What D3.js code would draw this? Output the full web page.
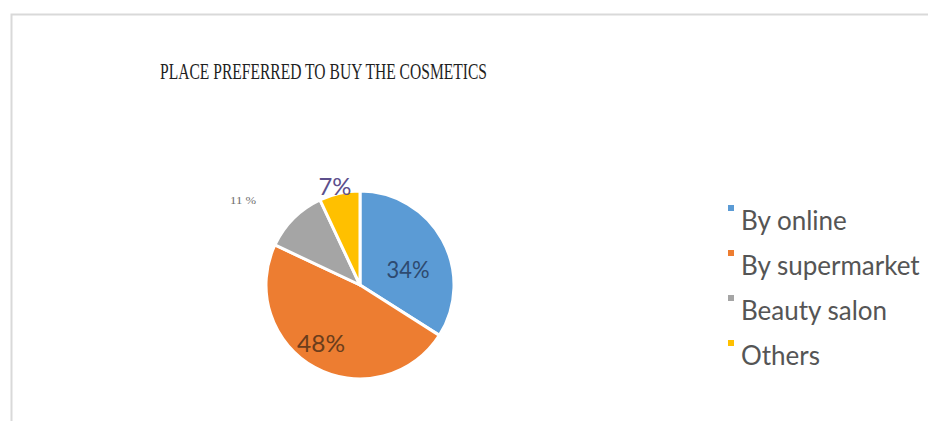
<!DOCTYPE html>
<html><head><meta charset="utf-8">
<script src="https://cdn.jsdelivr.net/npm/d3@7"></script>
<style>body{margin:0;background:#fff;}svg{display:block;}</style>
</head><body>
<svg id="c" width="928" height="421"></svg>
<script>
const categories = ["By online", "By supermarket", "Beauty salon", "Others"];
const values = [34, 48, 11, 7];
const labels = ["34%", "48%", "11 %", "7%"];
const colors = ["#5b9bd5", "#ed7d31", "#a5a5a5", "#ffc000"];
const title = "PLACE PREFERRED TO BUY THE COSMETICS";

const svg = d3.select("#c");
svg.append("rect").attr("width", 928).attr("height", 421).attr("fill", "#fff");
// chart frame
svg.append("path").attr("d", "M11.5,421 V14.5 H928").attr("fill", "none")
  .attr("stroke", "#d9d9d9").attr("stroke-width", 2);

svg.append("text").attr("x", 160).attr("y", 79)
  .attr("font-family", "Liberation Serif, Times New Roman, serif")
  .attr("font-size", 23).attr("fill", "#1f1f1f")
  .attr("textLength", 327).attr("lengthAdjust", "spacingAndGlyphs").text(title);

const cx = 360, cy = 285, r = 94;
const pie = d3.pie().sort(null).value(d => d)(values);
const arc = d3.arc().innerRadius(0).outerRadius(r);
const g = svg.append("g").attr("transform", `translate(${cx},${cy})`);
g.selectAll("path").data(pie).join("path")
  .attr("d", arc).attr("fill", (d, i) => colors[i])
  .attr("stroke", "#fff").attr("stroke-width", 3).attr("stroke-linejoin", "round");

// data labels (offsets from pie centre)
const labStyle = [
  {fill: "#2e4a70", size: 24, w: 43, dx: 48, dy: -17, fam: "Lato, sans-serif"},
  {fill: "#6b3d1c", size: 24, w: 48, dx: -39, dy: 57, fam: "Lato, sans-serif"},
  {fill: "#6f6f6f", size: 11, w: 26, dx: -117, dy: -85, fam: "Liberation Serif, serif"},
  {fill: "#5c4f8c", size: 24, w: 33, dx: -25, dy: -100, fam: "Lato, sans-serif"}
];
pie.forEach((d, i) => {
  const s = labStyle[i];
  const t = g.append("text").attr("x", s.dx).attr("y", s.dy)
    .attr("text-anchor", "middle").attr("dominant-baseline", "central")
    .attr("font-family", s.fam).attr("font-size", s.size)
    .attr("fill", s.fill).text(labels[i]);
  if (s.w) t.attr("textLength", s.w).attr("lengthAdjust", "spacingAndGlyphs");
});

// legend
const lg = svg.append("g").attr("transform", "translate(728,205)");
categories.forEach((c, i) => {
  const row = lg.append("g").attr("transform", `translate(0,${i * 45})`);
  row.append("rect").attr("x", 0).attr("y", 0).attr("width", 6).attr("height", 6).attr("fill", colors[i]);
  row.append("text").attr("x", 13).attr("y", 25)
    .attr("font-family", "Lato, sans-serif").attr("font-size", 26)
    .attr("fill", "#555555").text(c);
});
</script>
</body></html>
